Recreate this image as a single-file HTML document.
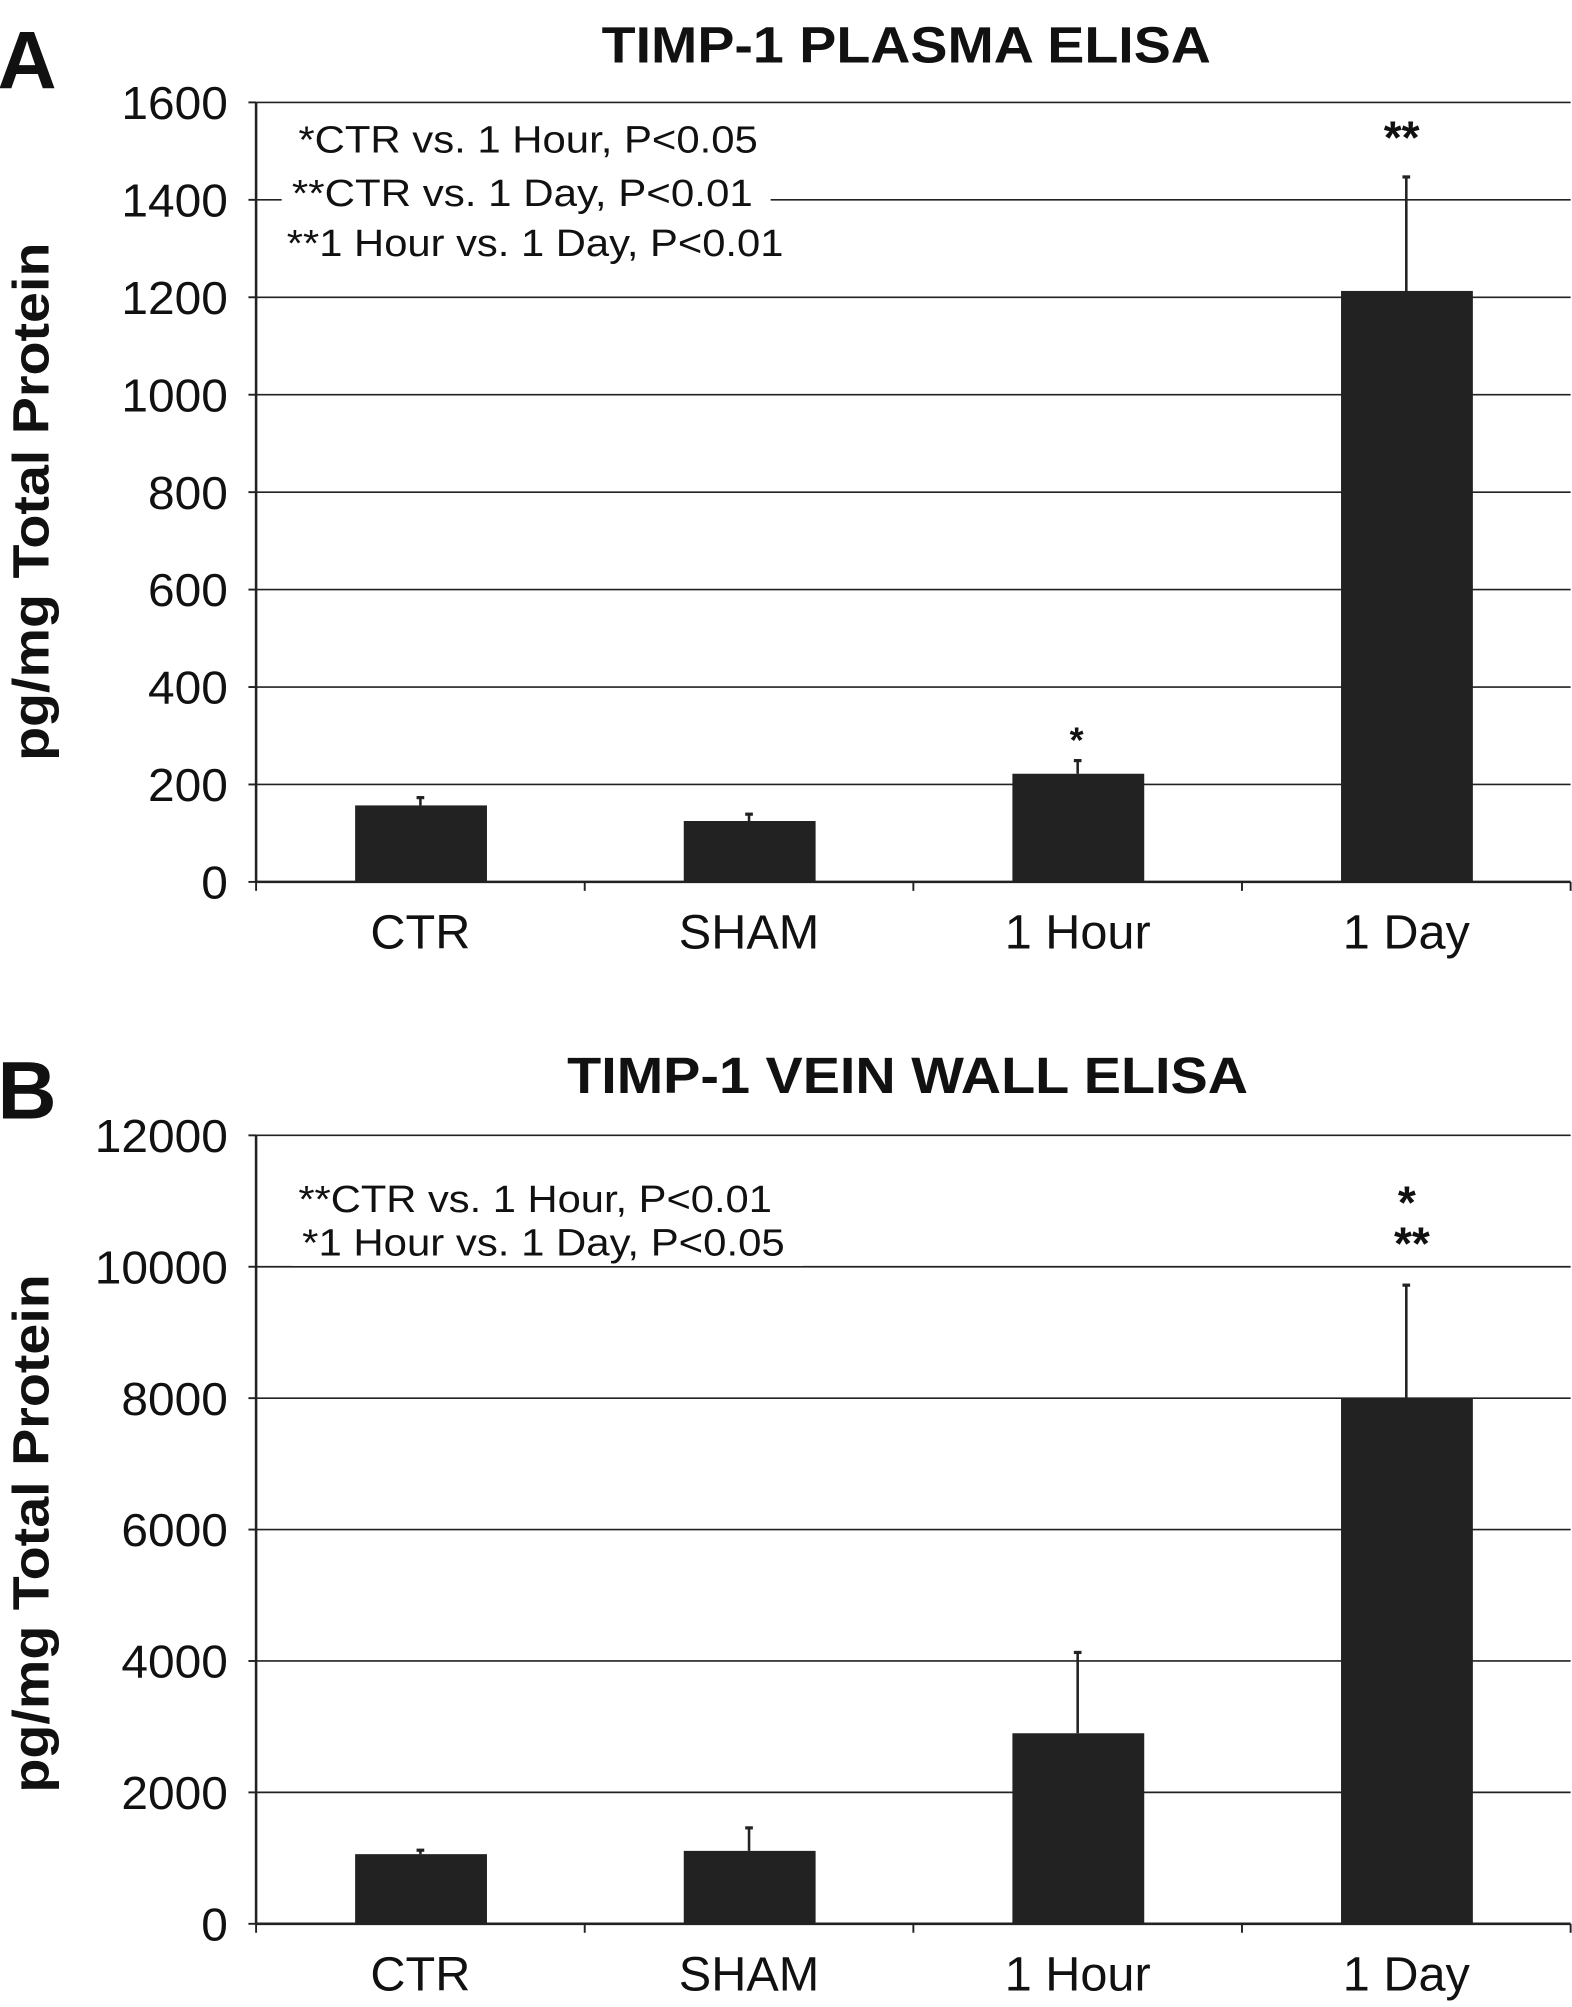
<!DOCTYPE html>
<html><head><meta charset="utf-8"><style>
html,body{margin:0;padding:0;background:#fff;}
svg{display:block;font-family:"Liberation Sans",Arial,sans-serif;}
</style></head><body>
<svg id="fig" width="1572" height="2007" viewBox="0 0 1228 1568">
<rect width="1228" height="1568" fill="#fff"/>
</svg>
<script>
const categories = ["CTR","SHAM","1 Hour","1 Day"];
const plasmaValues = [157,125,222,1213];
const plasmaErrors = [173,139,249,1447];
const plasmaTicks = [0,200,400,600,800,1000,1200,1400,1600];
const veinValues = [1060,1110,2900,8000];
const veinErrors = [1120,1460,4130,9720];
const veinTicks = [0,2000,4000,6000,8000,10000,12000];

const NS="http://www.w3.org/2000/svg";
const svg=document.getElementById('fig');
function mk(tag,attrs,parent,text){const e=document.createElementNS(NS,tag);for(const k in attrs)e.setAttribute(k,attrs[k]);if(text!==undefined)e.textContent=text;(parent||svg).appendChild(e);return e;}

function panel(cfg){
  const g=mk('g',{});
  
  
  const x0=200,x1=1227,yTop=cfg.yTop,yBot=cfg.yBot,max=cfg.ticks[cfg.ticks.length-1];
  const y=v=>yBot-(v/max)*(yBot-yTop);
  const bw=(x1-x0)/categories.length;
  const xc=i=>x0+bw*(i+0.5);
  cfg.ticks.forEach(t=>{
    if(t>0){const l=mk('line',{x1:x0,x2:x1,y1:y(t),y2:y(t),stroke:'#222','stroke-width':1.3},g);
      
      }
    mk('line',{x1:x0-6,x2:x0,y1:y(t),y2:y(t),stroke:'#222','stroke-width':1.5},g);
    const s=String(t);
    const tx=mk('text',{x:178,y:y(t)+13,'text-anchor':'end','font-size':36,fill:'#111',textLength:s.length*20.8,lengthAdjust:'spacingAndGlyphs'},g,s);
    
    
  });
  cfg.notes.forEach(n=>{
    mk('rect',{x:n.x-8,y:n.y-26,width:n.w+22,height:34,fill:'#fff'},g);
    const t=mk('text',{x:n.x,y:n.y,'font-size':30,fill:'#111',textLength:n.w,lengthAdjust:'spacingAndGlyphs'},g,n.t);
    
    
  });
  mk('line',{x1:x0,x2:x0,y1:yTop,y2:yBot,stroke:'#222','stroke-width':2},g);
  mk('line',{x1:x0,x2:x1,y1:yBot,y2:yBot,stroke:'#222','stroke-width':2},g);
  for(let i=0;i<=categories.length;i++)mk('line',{x1:x0+bw*i,x2:x0+bw*i,y1:yBot,y2:yBot+7,stroke:'#222','stroke-width':1.5},g);
  cfg.values.forEach((v,i)=>{
    const e=cfg.errors[i];
    mk('line',{x1:xc(i),x2:xc(i),y1:y(v),y2:y(e),stroke:'#222','stroke-width':2},g);
    mk('line',{x1:xc(i)-3,x2:xc(i)+3,y1:y(e),y2:y(e),stroke:'#222','stroke-width':2.5},g);
    const b=mk('rect',{x:xc(i)-51,y:y(v),width:103,height:yBot-y(v),fill:'#222'},g);
    
    
    const c=mk('text',{x:xc(i),y:yBot+52,'text-anchor':'middle','font-size':38,fill:'#111'},g,categories[i]);
    
    
  });
  cfg.stars.forEach(s=>{
    const t=mk('text',{x:s.x,y:s.y,'text-anchor':'middle','font-size':s.fs,'font-weight':'bold',fill:'#111'},g,s.t);
    
    
  });
  const tt=mk('text',{x:cfg.titleX,y:cfg.titleY,'font-size':40,'font-weight':'bold',fill:'#111',textLength:cfg.titleW,lengthAdjust:'spacingAndGlyphs'},g,cfg.title);
  
  
  const pl=mk('text',{x:-2,y:cfg.titleY+20,'font-size':64,'font-weight':'bold',fill:'#111'},g,cfg.letter);
  
  
  const ya=mk('text',{x:0,y:0,'text-anchor':'middle','font-size':40,'font-weight':'bold',fill:'#111',textLength:405,lengthAdjust:'spacingAndGlyphs',transform:`translate(38,${cfg.yTitleC}) rotate(-90)`},g,'pg/mg Total Protein');
  
  
}

panel({name:'plasma-chart',yTop:80,yBot:689,ticks:plasmaTicks,values:plasmaValues,errors:plasmaErrors,
  title:'TIMP-1 PLASMA ELISA',titleY:49,titleX:470,titleW:476,letter:'A',yTitleC:392,
  notes:[{x:233,y:119,t:'*CTR vs. 1 Hour, P<0.05',w:359},{x:228,y:161,t:'**CTR vs. 1 Day, P<0.01',w:360},{x:224,y:200,t:'**1 Hour vs. 1 Day, P<0.01',w:388}],
  stars:[{x:841,y:588,t:'*',fs:28},{x:1095,y:120,t:'**',fs:36}]});
panel({name:'vein-wall-chart',yTop:887,yBot:1503,ticks:veinTicks,values:veinValues,errors:veinErrors,
  title:'TIMP-1 VEIN WALL ELISA',titleY:854,titleX:443,titleW:532,letter:'B',yTitleC:1198,
  notes:[{x:233,y:947,t:'**CTR vs. 1 Hour, P<0.01',w:370},{x:236,y:981,t:'*1 Hour vs. 1 Day, P<0.05',w:377}],
  stars:[{x:1099,y:952,t:'*',fs:36},{x:1103,y:984,t:'**',fs:36}]});
</script>
</body></html>
